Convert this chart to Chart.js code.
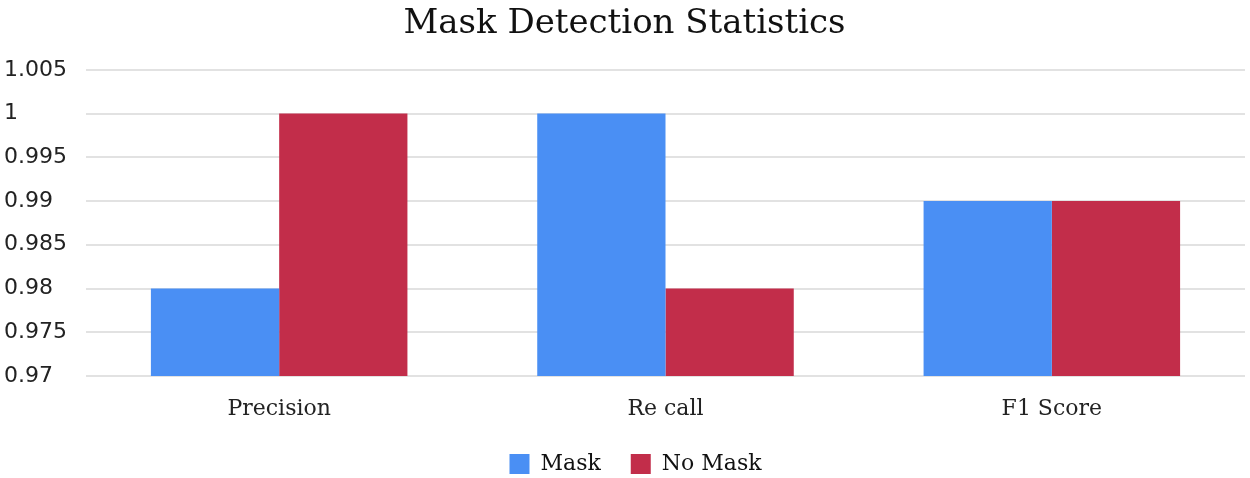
<!DOCTYPE html>
<html>
<head>
<meta charset="utf-8">
<script src="https://cdn.jsdelivr.net/npm/chart.js@4/dist/chart.umd.min.js"></script>
<style>
  html, body { margin: 0; padding: 0; background: #fff; }
  #wrap { width: 1250px; height: 478px; }
</style>
</head>
<body>
<div id="wrap"><canvas id="chartCanvas"></canvas></div>
<script>
// Dati del grafico
const categories = ['Precision', 'Re call', 'F1 Score'];
const maskValues = [0.98, 1, 0.99];
const noMaskValues = [1, 0.98, 0.99];
const yTicks = [0.97, 0.975, 0.98, 0.985, 0.99, 0.995, 1, 1.005];

const serif = "'DejaVu Serif', serif";
const sans = "'DejaVu Sans', sans-serif";

// Legenda: altezza fissa e leggero spostamento a destra
const legendTweak = {
    id: 'legendTweak',
    beforeLayout(chart) {
        const lg = chart.legend;
        if (lg && !lg._tweaked) {
            const origFit = lg.fit.bind(lg);
            lg.fit = function () {
                origFit();
                this.height = 55;
            };
            lg._tweaked = true;
        }
    },
    afterLayout(chart) {
        const lg = chart.legend;
        if (lg) {
            lg.left += 11;
            lg.right += 11;
        }
    }
};

const ctx = document.getElementById('chartCanvas').getContext('2d');

new Chart(ctx, {
    type: 'bar',
    data: {
        labels: categories,
        datasets: [{
            label: 'Mask',
            data: maskValues,
            backgroundColor: '#4a8ff4',
            borderWidth: 0
        }, {
            label: 'No Mask',
            data: noMaskValues,
            backgroundColor: '#c22d4a',
            borderWidth: 0
        }]
    },
    options: {
        responsive: true,
        maintainAspectRatio: false,
        animation: false,
        layout: { padding: { left: 4, right: 5, top: 0, bottom: 0 } },
        datasets: {
            bar: { categoryPercentage: 0.664, barPercentage: 1 }
        },
        scales: {
            x: {
                grid: { display: false, drawTicks: false },
                border: { display: false },
                afterFit: (scale) => { scale.height = 47; },
                ticks: { color: '#222', font: { family: serif, size: 22 }, padding: 20 }
            },
            y: {
                min: 0.97,
                max: 1.005,
                afterBuildTicks: (scale) => {
                    scale.ticks = yTicks.map(v => ({ value: v }));
                },
                afterFit: (scale) => { scale.width = 82; },
                grid: { color: '#e2e2e2', lineWidth: 2, drawTicks: false },
                border: { display: false },
                ticks: {
                    color: '#222',
                    font: { family: sans, size: 22 },
                    crossAlign: 'far',
                    padding: 10,
                    callback: (v) => String(Number(v.toFixed(3)))
                }
            }
        },
        plugins: {
            title: {
                display: true,
                text: 'Mask Detection Statistics',
                color: '#111',
                font: { family: serif, size: 34, weight: 'normal' },
                padding: { top: 4, bottom: 25 }
            },
            legend: {
                position: 'bottom',
                labels: {
                    color: '#111',
                    font: { family: serif, size: 22 },
                    boxWidth: 20,
                    boxHeight: 20,
                    padding: 30
                }
            },
            tooltip: { enabled: false }
        }
    },
    plugins: [legendTweak]
});
</script>
</body>
</html>
